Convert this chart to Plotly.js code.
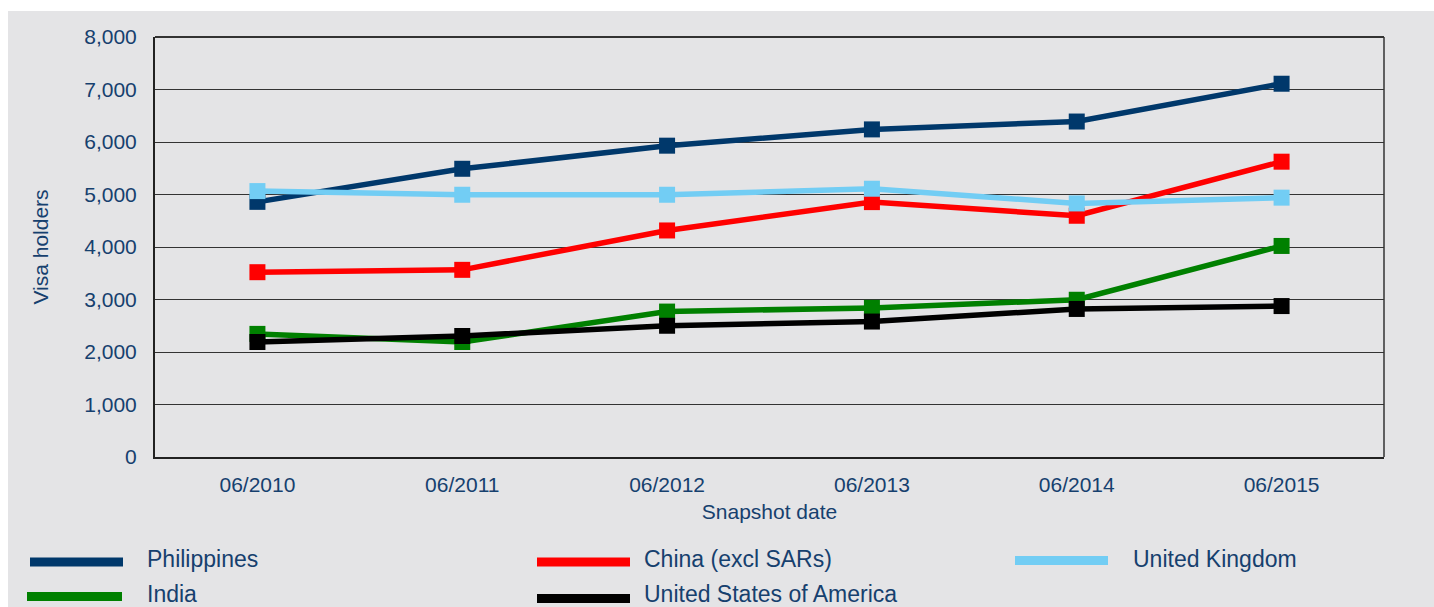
<!DOCTYPE html>
<html>
<head>
<meta charset="utf-8">
<script src="https://cdn.plot.ly/plotly-3.0.1.min.js"></script>
<style>
  html, body { margin: 0; padding: 0; background: #ffffff; width: 1434px; height: 607px; overflow: hidden; }
  #chart { position: absolute; left: 8px; top: 11px; width: 1426px; height: 596px; }
</style>
</head>
<body>
<div id="chart"></div>
<script>
// ---- data ----
const categories = ["06/2010", "06/2011", "06/2012", "06/2013", "06/2014", "06/2015"];
const seriesNames = ["Philippines", "China (excl SARs)", "United Kingdom", "India", "United States of America"];
const philippines = [4860, 5490, 5930, 6240, 6390, 7110];
const china = [3520, 3565, 4315, 4855, 4595, 5625];
const unitedKingdom = [5065, 4995, 4995, 5110, 4830, 4940];
const india = [2345, 2190, 2770, 2840, 2995, 4020];
const usa = [2190, 2305, 2500, 2580, 2820, 2875];
const yTickVals = [0, 1000, 2000, 3000, 4000, 5000, 6000, 7000, 8000];
const yTickText = ["0", "1,000", "2,000", "3,000", "4,000", "5,000", "6,000", "7,000", "8,000"];

// ---- styles ----
const colors = ["#00386b", "#ff0000", "#72cdf4", "#008000", "#000000"];
const values = [philippines, china, unitedKingdom, india, usa];
const textColor = "#16406e";
const bg = "#e4e4e6";
const font = "Liberation Sans, Arial, sans-serif";

const traces = values.map((v, i) => ({
  type: "scatter",
  mode: "lines+markers",
  name: seriesNames[i],
  x: categories,
  y: v,
  line: { color: colors[i], width: 5.5 },
  marker: { symbol: "square", size: 16, color: colors[i] },
  showlegend: false,
  hoverinfo: "x+y+name"
}));

// page-pixel helpers for legend placement (div offset 8,11)
const plotL = 155, plotR = 1384, plotT = 37, plotB = 457;
const px = p => (p - plotL) / (plotR - plotL);
const py = p => (plotB - p) / (plotB - plotT);

const legendPos = [
  { kx0: 30, kx1: 123, ky: 562, tx: 145, ty: 559 },
  { kx0: 537, kx1: 630, ky: 562, tx: 642, ty: 559 },
  { kx0: 1015, kx1: 1108, ky: 560.5, tx: 1131, ty: 559 },
  { kx0: 27, kx1: 122, ky: 596.5, tx: 145, ty: 594 },
  { kx0: 537, kx1: 630, ky: 598.5, tx: 642, ty: 594 }
];

const shapes = legendPos.map((p, i) => ({
  type: "line", xref: "paper", yref: "paper",
  x0: px(p.kx0), x1: px(p.kx1), y0: py(p.ky), y1: py(p.ky),
  line: { color: colors[i], width: 9 }
}));
// top and right border of plot area
shapes.push({ type: "line", xref: "paper", yref: "paper", x0: 0, x1: 1, y0: 1, y1: 1, line: { color: "#333333", width: 2 } });
shapes.push({ type: "line", xref: "paper", yref: "paper", x0: 1, x1: 1, y0: 0, y1: 1, line: { color: "#333333", width: 1.5 } });

const annotations = legendPos.map((p, i) => ({
  xref: "paper", yref: "paper",
  x: px(p.tx), y: py(p.ty),
  xanchor: "left", yanchor: "middle",
  text: seriesNames[i], showarrow: false,
  font: { family: font, size: 23, color: textColor }
}));

const layout = {
  width: 1426, height: 596,
  paper_bgcolor: bg, plot_bgcolor: bg,
  margin: { l: 147, r: 50, t: 26, b: 150 },
  font: { family: font, color: textColor },
  xaxis: {
    type: "category",
    range: [-0.5, 5.5],
    showgrid: false,
    showline: true, linecolor: "#222222", linewidth: 2,
    ticks: "",
    tickfont: { family: font, size: 21, color: textColor },
    ticklabelstandoff: 8,
    title: { text: "Snapshot date", font: { family: font, size: 21, color: textColor }, standoff: 9 },
    zeroline: false,
    fixedrange: true
  },
  yaxis: {
    range: [0, 8000],
    tickvals: yTickVals, ticktext: yTickText,
    showgrid: true, gridcolor: "#333333", gridwidth: 1,
    showline: true, linecolor: "#222222", linewidth: 2,
    ticks: "",
    tickfont: { family: font, size: 21, color: textColor },
    ticklabelstandoff: 12,
    title: { text: "Visa holders", font: { family: font, size: 21, color: textColor }, standoff: 30 },
    zeroline: false,
    fixedrange: true
  },
  shapes: shapes,
  annotations: annotations,
  showlegend: false
};

Plotly.newPlot("chart", traces, layout, { displayModeBar: false, staticPlot: true });
</script>
</body>
</html>
